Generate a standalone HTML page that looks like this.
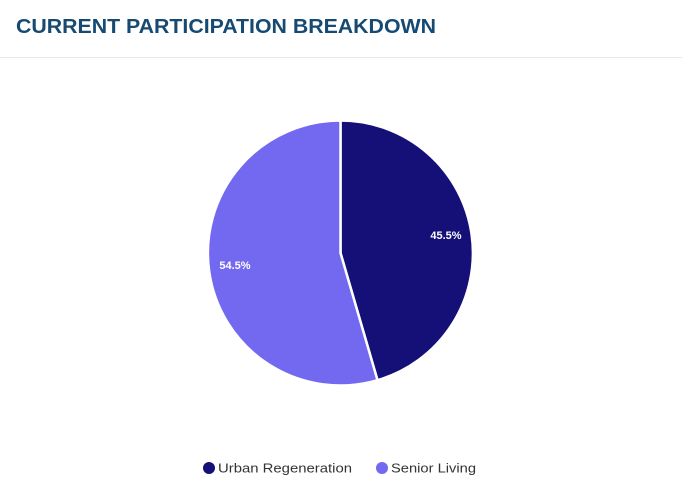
<!DOCTYPE html>
<html><head><meta charset="utf-8"><style>
html,body{margin:0;padding:0;background:#fff;}
svg{display:block;font-family:"Liberation Sans",sans-serif;}
</style></head><body>
<svg width="682" height="492" viewBox="0 0 682 492" xmlns="http://www.w3.org/2000/svg">
<rect width="682" height="492" fill="#fff"/>
<text x="16" y="33" font-size="20" font-weight="bold" fill="#174a72" textLength="420" lengthAdjust="spacingAndGlyphs">CURRENT PARTICIPATION BREAKDOWN</text>
<line x1="0" y1="57.5" x2="682" y2="57.5" stroke="#e8e8e8" stroke-width="1"/>
<path d="M340.5 253 L340.5 120.5 A132.5 132.5 0 0 1 377.5 380.2 Z" fill="#150f78" stroke="#fff" stroke-width="2.5"/>
<path d="M340.5 253 L377.5 380.2 A132.5 132.5 0 1 1 340.5 120.5 Z" fill="#7369f1" stroke="#fff" stroke-width="2.5"/>
<text x="446" y="239" font-size="11" font-weight="bold" fill="#fff" text-anchor="middle">45.5%</text>
<text x="235" y="269" font-size="11" font-weight="bold" fill="#fff" text-anchor="middle">54.5%</text>
<circle cx="209" cy="468" r="6" fill="#150f78"/>
<text x="218" y="472.5" font-size="13" fill="#333" textLength="134" lengthAdjust="spacingAndGlyphs">Urban Regeneration</text>
<circle cx="382" cy="468" r="6" fill="#7369f1"/>
<text x="391" y="472.5" font-size="13" fill="#333" textLength="85" lengthAdjust="spacingAndGlyphs">Senior Living</text>
</svg>
</body></html>
